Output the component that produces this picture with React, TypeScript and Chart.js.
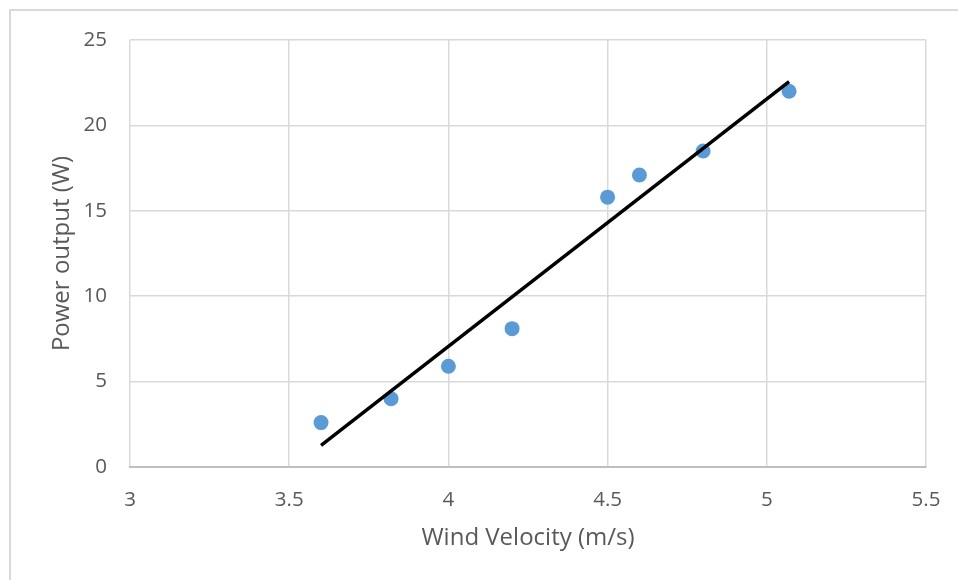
import React, { useEffect, useRef } from "react";
import { Chart, registerables } from "chart.js";

Chart.register(...registerables);

const windVelocity = [3.6, 3.82, 4.0, 4.2, 4.5, 4.6, 4.8, 5.07];
const powerOutput = [2.6, 4.0, 5.9, 8.1, 15.8, 17.1, 18.5, 22.0];
const xTitle = "Wind Velocity (m/s)";
const yTitle = "Power output (W)";

function linearFit(xs: number[], ys: number[]) {
  const n = xs.length;
  const mx = xs.reduce((a, b) => a + b, 0) / n;
  const my = ys.reduce((a, b) => a + b, 0) / n;
  let sxy = 0, sxx = 0;
  for (let i = 0; i < n; i++) {
    sxy += (xs[i] - mx) * (ys[i] - my);
    sxx += (xs[i] - mx) ** 2;
  }
  const slope = sxy / sxx;
  return { slope, intercept: my - slope * mx };
}

export default function App() {
  const ref = useRef<HTMLCanvasElement | null>(null);
  useEffect(() => {
    if (!ref.current) return;
    const fit = linearFit(windVelocity, powerOutput);
    const xMin = Math.min(...windVelocity);
    const xMax = Math.max(...windVelocity);
    const font = "'Open Sans', 'Noto Sans', sans-serif";
    const chart = new Chart(ref.current, {
      type: "scatter",
      data: {
        datasets: [
          {
            label: "Trend",
            data: [
              { x: xMin, y: fit.intercept + fit.slope * xMin },
              { x: xMax, y: fit.intercept + fit.slope * xMax },
            ],
            showLine: true,
            borderColor: "#000000",
            borderWidth: 3.5,
            pointRadius: 0,
            order: 1,
          },
          {
            label: "Power",
            data: windVelocity.map((x, i) => ({ x, y: powerOutput[i] })),
            backgroundColor: "#5b9bd5",
            borderColor: "#5b9bd5",
            pointRadius: 7.5,
            borderWidth: 0,
            order: 2,
          },
        ],
      },
      options: {
        animation: false,
        responsive: false,
        events: [],
        layout: { padding: { left: 0, top: 40, right: 32, bottom: 0 } },
        plugins: { legend: { display: false }, tooltip: { enabled: false } },
        scales: {
          x: {
            type: "linear",
            min: 3,
            max: 5.5,
            ticks: {
              stepSize: 0.5,
              padding: 21,
              color: "#595959",
              font: { family: font, size: 20.5 },
              callback: (v: any) => String(Number(v)),
            },
            grid: { color: "#d9d9d9", lineWidth: 1.5, drawTicks: false },
            border: { color: "#bfbfbf", width: 2 },
            title: {
              display: true,
              text: xTitle,
              color: "#595959",
              font: { family: font, size: 24 },
              padding: { top: 4, bottom: 27.6 },
            },
            afterFit: (s: any) => { s.height = 113; s.paddingLeft = 0; s.paddingRight = 0; },
          },
          y: {
            type: "linear",
            min: 0,
            max: 25,
            ticks: { stepSize: 5, padding: 23, color: "#595959", font: { family: font, size: 20.5 } },
            grid: { color: "#d9d9d9", lineWidth: 1.5, drawTicks: false },
            border: { display: false },
            title: {
              display: true,
              text: yTitle,
              color: "#595959",
              font: { family: font, size: 24 },
              padding: { top: 47.6, bottom: 4 },
            },
            afterFit: (s: any) => { s.width = 130; },
          },
        },
      },
    });
    return () => chart.destroy();
  }, []);
  return (
    <div style={{ position: "absolute", left: 0, top: 0, width: 958, height: 580, background: "#fff", overflow: "hidden" }}>
      <div style={{ position: "absolute", left: 9, top: 9, right: -4, bottom: -4, borderLeft: "2px solid #d9d9d9", borderTop: "2px solid #d9d9d9" }} />
      <canvas ref={ref} width={958} height={580} style={{ position: "absolute", left: 0, top: 0 }} />
    </div>
  );
}
